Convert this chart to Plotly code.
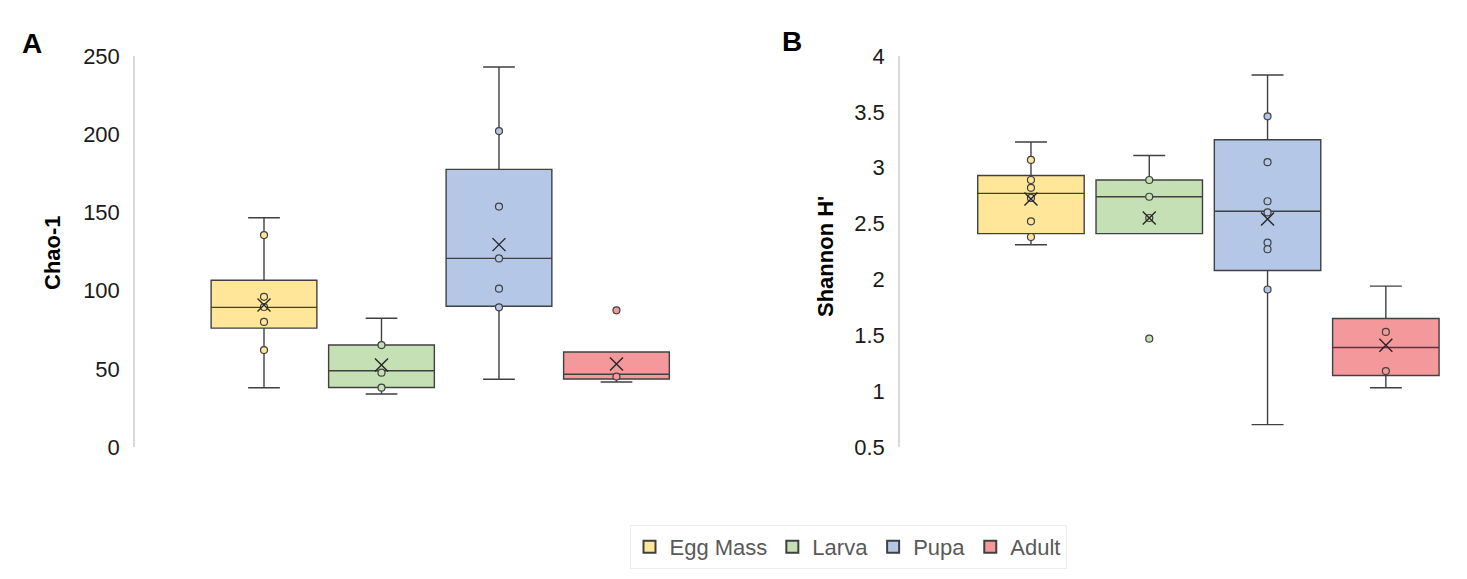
import plotly.graph_objects as go

stages = ["Egg Mass", "Larva", "Pupa", "Adult"]
fills = ["#FFE699", "#C5E0B4", "#B4C7E7", "#F4989B"]

# Chao-1 (panel A): box stats
chao_q1 = [76.0, 38.0, 90.0, 43.5]
chao_med = [89.3, 48.8, 120.6, 46.5]
chao_q3 = [106.6, 65.2, 177.5, 60.7]
chao_low = [37.9, 33.9, 43.3, 41.6]
chao_high = [146.6, 82.3, 243.0, 60.7]
chao_mean = [90.8, 52.4, 129.4, 53.0]
chao_points = [
    [135.5, 96.0, 89.5, 80.0, 62.0],
    [65.2, 47.5, 37.9],
    [202.0, 153.7, 120.6, 101.2, 89.3],
    [87.4, 45.0],
]

# Shannon H' (panel B)
shan_q1 = [2.41, 2.41, 2.08, 1.14]
shan_med = [2.77, 2.74, 2.61, 1.39]
shan_q3 = [2.93, 2.89, 3.25, 1.65]
shan_low = [2.31, 2.41, 0.70, 1.03]
shan_high = [3.23, 3.11, 3.83, 1.94]
shan_mean = [2.72, 2.55, 2.54, 1.41]
shan_points = [
    [3.07, 2.89, 2.82, 2.73, 2.52, 2.38],
    [2.89, 2.74, 2.55, 1.47],
    [3.46, 3.05, 2.70, 2.60, 2.33, 2.27, 1.91],
    [1.53, 1.18],
]

edge = "#404040"
fig = go.Figure()


def add_panel(xa, ya, q1, med, q3, low, high, mean, points, legend):
    for i, name in enumerate(stages):
        fig.add_trace(go.Box(
            x=[i], q1=[q1[i]], median=[med[i]], q3=[q3[i]],
            lowerfence=[low[i]], upperfence=[high[i]],
            name=name, legendgroup=name, showlegend=legend,
            width=0.9, whiskerwidth=0.3, boxpoints=False,
            fillcolor=fills[i], line=dict(color=edge, width=1.4),
            xaxis=xa, yaxis=ya, hoverinfo="skip",
        ))
        fig.add_trace(go.Scatter(
            x=[i] * len(points[i]), y=points[i], mode="markers",
            marker=dict(symbol="circle", size=7, color=fills[i],
                        line=dict(color=edge, width=1.2)),
            showlegend=False, legendgroup=name, xaxis=xa, yaxis=ya,
        ))
        fig.add_trace(go.Scatter(
            x=[i], y=[mean[i]], mode="markers",
            marker=dict(symbol="x-thin-open", size=13, color="#262626",
                        line=dict(color="#262626", width=1.4)),
            showlegend=False, legendgroup=name, xaxis=xa, yaxis=ya,
        ))


add_panel("x", "y", chao_q1, chao_med, chao_q3, chao_low, chao_high,
          chao_mean, chao_points, True)
add_panel("x2", "y2", shan_q1, shan_med, shan_q3, shan_low, shan_high,
          shan_mean, shan_points, False)

# the page body adds an 8px offset, so the figure is 8px smaller each way
W, H = 1459, 571


def px(x):
    return (x - 8) / W


def py(y):
    return 1 - (y - 8) / H


ydom = [py(447), py(56)]
font_family = "Liberation Sans, Arial"
xcommon = dict(showgrid=False, zeroline=False, showticklabels=False,
               showline=False, fixedrange=True)
ycommon = dict(showgrid=False, zeroline=False, showline=True,
               linecolor="#d9d9d9", linewidth=1.5, ticks="",
               ticklabelstandoff=9,
               tickfont=dict(family=font_family, size=22, color="#1a1a1a"))

fig.update_layout(
    width=W, height=H,
    margin=dict(l=0, r=0, t=0, b=0, autoexpand=False),
    paper_bgcolor="white", plot_bgcolor="white",
    boxmode="overlay",
    xaxis=dict(domain=[px(135), px(745)], range=[-1.098, 4.094], **xcommon),
    xaxis2=dict(domain=[px(900), 1.0], range=[-1.107, 3.686], **xcommon),
    yaxis=dict(domain=ydom, range=[0, 250], dtick=50, anchor="x", **ycommon),
    yaxis2=dict(domain=ydom, range=[0.5, 4], dtick=0.5, anchor="x2",
                **ycommon),
    legend=dict(orientation="h", x=px(848), xanchor="center",
                y=py(547), yanchor="middle",
                bordercolor="#ececec", borderwidth=1,
                font=dict(family=font_family, size=22, color="#595959"),
                itemsizing="constant"),
    font=dict(family=font_family),
)

label_font = dict(family=font_family, size=22, color="black")
panel_font = dict(family=font_family, size=28, color="black")
labels = [
    ("<b>Chao-1</b>", 52, 253, -90, label_font),
    ("<b>Shannon H'</b>", 825, 257, -90, label_font),
    ("<b>A</b>", 32, 43, 0, panel_font),
    ("<b>B</b>", 792, 42, 0, panel_font),
]
for text, lx, ly, angle, f in labels:
    fig.add_annotation(text=text, textangle=angle, x=px(lx), y=py(ly),
                       xref="paper", yref="paper", xanchor="center",
                       yanchor="middle", showarrow=False, font=f)

fig.write_html("out.html")
